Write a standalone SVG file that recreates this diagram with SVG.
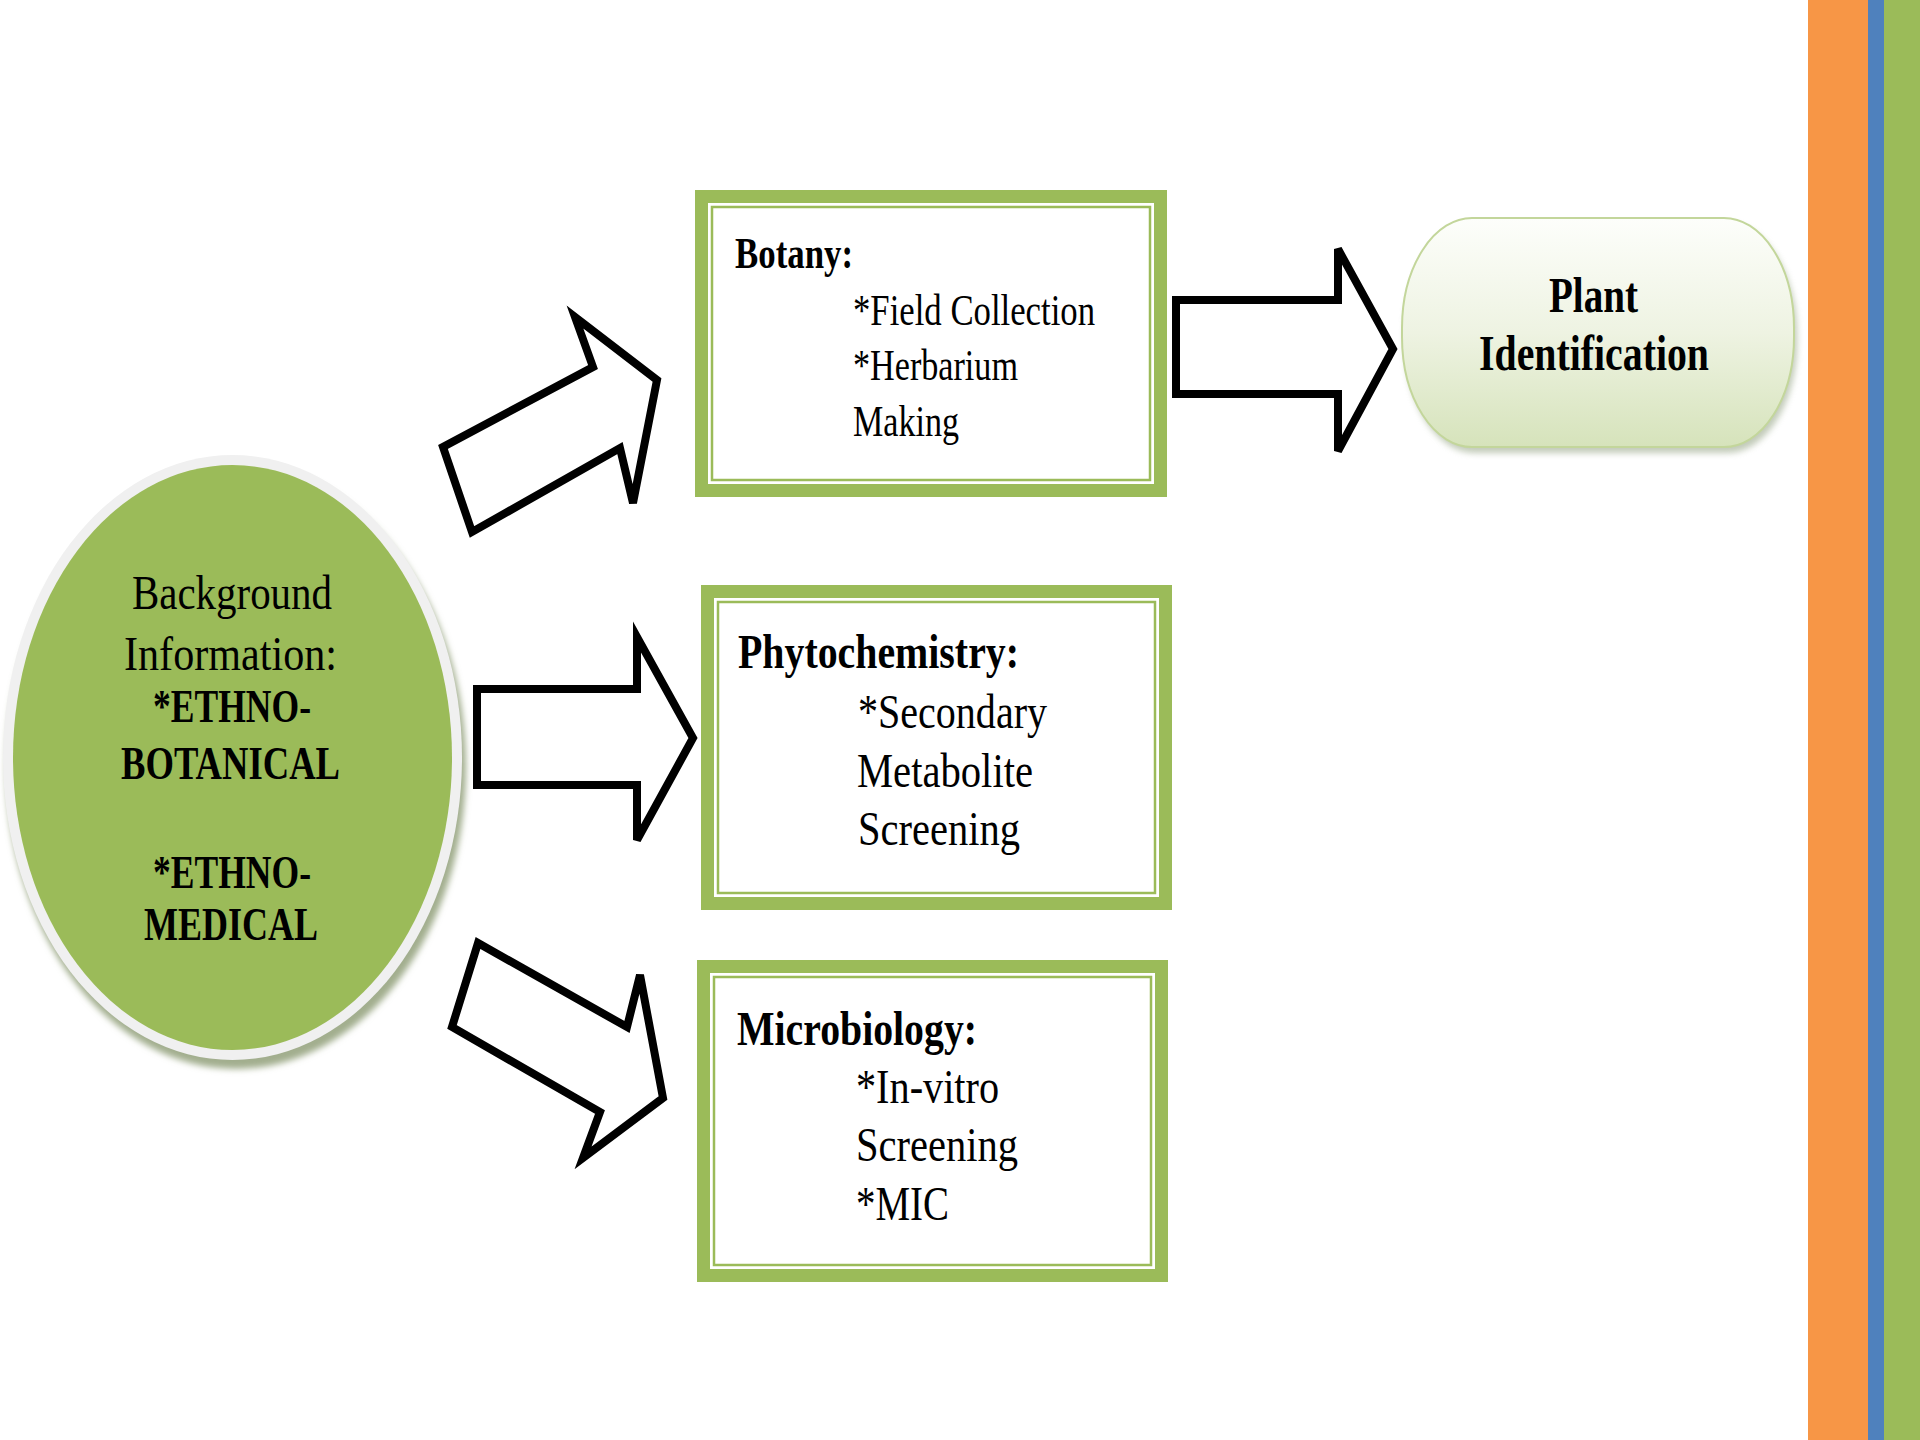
<svg xmlns="http://www.w3.org/2000/svg" width="1920" height="1440" viewBox="0 0 1920 1440">
  <defs>
    <style>
      .t { font-family: "Liberation Serif", "Times New Roman", serif; fill: #000; }
      .b { font-weight: bold; }
      .arrow { fill: #fff; stroke: #000; stroke-width: 8; stroke-linejoin: miter; }
      .band { fill: #9bbb59; }
      .gap { fill: #fff; }
      .thin { fill: #fff; stroke: #9bbb59; stroke-width: 2.5; }
    </style>
    <linearGradient id="pillFill" x1="0" y1="0" x2="0" y2="1">
      <stop offset="0" stop-color="#fdfefb"/>
      <stop offset="0.5" stop-color="#eef3e2"/>
      <stop offset="1" stop-color="#d6e3bb"/>
    </linearGradient>
    <filter id="soft" x="-10%" y="-10%" width="120%" height="130%">
      <feGaussianBlur stdDeviation="3"/>
    </filter>
  </defs>

  <rect width="1920" height="1440" fill="#fff"/>

  <!-- side stripes -->
  <rect x="1808" y="0" width="60" height="1440" fill="#f79646"/>
  <rect x="1868" y="0" width="16" height="1440" fill="#4f81bd"/>
  <rect x="1884" y="0" width="36" height="1440" fill="#9bbb59"/>

  <!-- background information -->
  <g id="node-background">
    <ellipse cx="236" cy="767" rx="230" ry="302" fill="#a2ae8e" filter="url(#soft)"/>
    <ellipse cx="232.5" cy="757.5" rx="229.5" ry="302.5" fill="#f0f0f0"/>
    <ellipse cx="232.5" cy="757.5" rx="219.5" ry="292.5" fill="#9bbb59"/>
    <text class="t" x="132" y="609" font-size="48" textLength="200" lengthAdjust="spacingAndGlyphs">Background</text>
    <text class="t" x="124" y="670" font-size="48" textLength="213" lengthAdjust="spacingAndGlyphs">Information:</text>
    <text class="t b" x="153" y="722" font-size="46" textLength="158" lengthAdjust="spacingAndGlyphs">*ETHNO-</text>
    <text class="t b" x="121" y="779" font-size="46" textLength="219" lengthAdjust="spacingAndGlyphs">BOTANICAL</text>
    <text class="t b" x="153" y="888" font-size="46" textLength="158" lengthAdjust="spacingAndGlyphs">*ETHNO-</text>
    <text class="t b" x="144" y="940" font-size="46" textLength="174" lengthAdjust="spacingAndGlyphs">MEDICAL</text>
  </g>

  <!-- botany -->
  <g id="node-botany">
    <rect class="band" x="695" y="190" width="472" height="307"/>
    <rect class="gap" x="708" y="203" width="446" height="281"/>
    <rect class="thin" x="712" y="207" width="438" height="273"/>
    <text class="t b" x="735" y="268" font-size="44" textLength="118" lengthAdjust="spacingAndGlyphs">Botany:</text>
    <text class="t" x="853" y="325" font-size="44" textLength="242" lengthAdjust="spacingAndGlyphs">*Field Collection</text>
    <text class="t" x="853" y="380" font-size="44" textLength="165" lengthAdjust="spacingAndGlyphs">*Herbarium</text>
    <text class="t" x="853" y="436" font-size="44" textLength="106" lengthAdjust="spacingAndGlyphs">Making</text>
  </g>

  <!-- phytochemistry -->
  <g id="node-phytochemistry">
    <rect class="band" x="701" y="585" width="471" height="325"/>
    <rect class="gap" x="714" y="598" width="445" height="299"/>
    <rect class="thin" x="718" y="602" width="437" height="291"/>
    <text class="t b" x="738" y="668" font-size="48" textLength="281" lengthAdjust="spacingAndGlyphs">Phytochemistry:</text>
    <text class="t" x="858" y="728" font-size="48" textLength="189" lengthAdjust="spacingAndGlyphs">*Secondary</text>
    <text class="t" x="857" y="787" font-size="48" textLength="176" lengthAdjust="spacingAndGlyphs">Metabolite</text>
    <text class="t" x="858" y="845" font-size="48" textLength="162" lengthAdjust="spacingAndGlyphs">Screening</text>
  </g>

  <!-- microbiology -->
  <g id="node-microbiology">
    <rect class="band" x="697" y="960" width="471" height="322"/>
    <rect class="gap" x="710" y="973" width="445" height="296"/>
    <rect class="thin" x="714" y="977" width="437" height="288"/>
    <text class="t b" x="737" y="1045" font-size="48" textLength="240" lengthAdjust="spacingAndGlyphs">Microbiology:</text>
    <text class="t" x="856" y="1103" font-size="48" textLength="143" lengthAdjust="spacingAndGlyphs">*In-vitro</text>
    <text class="t" x="856" y="1161" font-size="48" textLength="162" lengthAdjust="spacingAndGlyphs">Screening</text>
    <text class="t" x="856" y="1220" font-size="48" textLength="93" lengthAdjust="spacingAndGlyphs">*MIC</text>
  </g>

  <!-- plant identification -->
  <g id="node-plant-identification">
    <rect x="1405" y="224" width="392" height="229" rx="70" ry="110" fill="#9aa88a" opacity="0.6" filter="url(#soft)"/>
    <rect x="1402" y="218" width="392" height="229" rx="70" ry="110" fill="url(#pillFill)" stroke="#c3d69b" stroke-width="2"/>
    <text class="t b" x="1549" y="312" font-size="50" textLength="89" lengthAdjust="spacingAndGlyphs">Plant</text>
    <text class="t b" x="1479" y="370" font-size="50" textLength="230" lengthAdjust="spacingAndGlyphs">Identification</text>
  </g>

  <!-- block arrows -->
  <g id="connectors">
    <polygon class="arrow" points="472,532 443,447 593,367 575,317 657,380 633,503 620,448"/>
    <polygon class="arrow" points="477,689 637,689 637,637 693,738 637,840 637,785 477,785"/>
    <polygon class="arrow" points="478,943 452,1027 600,1112 583,1158 663,1098 640,975 627,1027"/>
    <polygon class="arrow" points="1176,300 1338,300 1338,249 1393,349 1338,451 1338,394 1176,394"/>
  </g>
</svg>
